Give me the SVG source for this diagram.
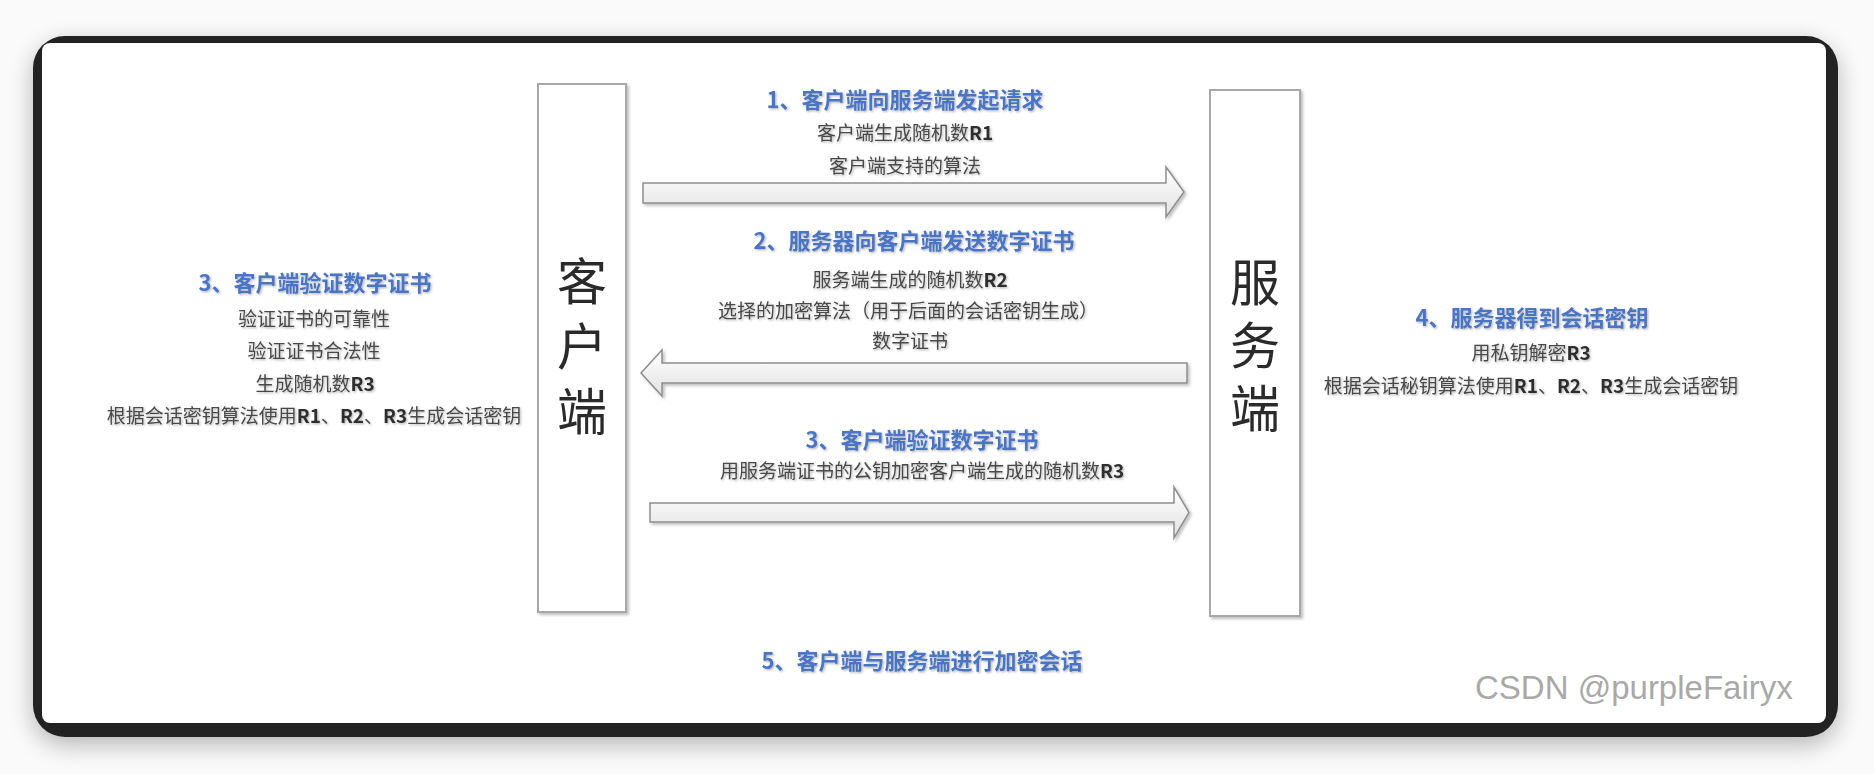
<svg xmlns="http://www.w3.org/2000/svg" width="1874" height="774" viewBox="0 0 1874 774">
  <defs>
    <filter id="frameShadow" x="-5%" y="-10%" width="110%" height="125%">
      <feGaussianBlur in="SourceAlpha" stdDeviation="12"/>
      <feOffset dx="0" dy="8" result="b"/>
      <feComponentTransfer><feFuncA type="linear" slope="0.28"/></feComponentTransfer>
      <feMerge><feMergeNode/><feMergeNode in="SourceGraphic"/></feMerge>
    </filter>
    <filter id="soft" x="-5%" y="-5%" width="115%" height="115%">
      <feDropShadow dx="2" dy="2" stdDeviation="1.5" flood-color="#000" flood-opacity="0.25"/>
    </filter>
    <filter id="txt" x="-5%" y="-20%" width="110%" height="150%">
      <feDropShadow dx="1.2" dy="1.2" stdDeviation="0.9" flood-color="#000" flood-opacity="0.3"/>
    </filter>
    <linearGradient id="arrowFill" x1="0" y1="0" x2="0" y2="1">
      <stop offset="0" stop-color="#ffffff"/>
      <stop offset="1" stop-color="#e2e2e2"/>
    </linearGradient>
  </defs>
  <style>
    .box { fill: #ffffff; stroke: #a8a8a8; stroke-width: 2; }
    .big { font-family: "Noto Sans CJK SC", "Noto Sans", sans-serif; font-size: 50px; fill: #2a2a2a; writing-mode: vertical-rl; text-orientation: upright; }
    .arrow { fill: url(#arrowFill); stroke: #8e8e8e; stroke-width: 1.5; stroke-linejoin: miter; }
    .h { font-family: "Noto Sans CJK SC", "Noto Sans", sans-serif; font-size: 22px; font-weight: bold; fill: #4a74c4; text-anchor: middle; }
    .t { font-family: "Noto Sans CJK SC", "Noto Sans", sans-serif; font-size: 19px; fill: #484848; text-anchor: middle; }
    .r { font-weight: bold; fill: #2e2e2e; }
    .wm { font-family: "Liberation Sans", Arial, sans-serif; font-size: 33px; fill: #a9a9a9; }
  </style>

  <!-- background and screenshot frame -->
  <rect x="0" y="0" width="1874" height="774" fill="#fafafa"/>
  <g id="frame" filter="url(#frameShadow)">
    <rect x="33" y="36" width="1805" height="701" rx="32" ry="32" fill="#242424"/>
  </g>
  <rect x="42" y="43" width="1784" height="680" rx="8" ry="8" fill="#ffffff"/>

  <!-- nodes -->
  <g id="node-client" filter="url(#soft)">
    <rect class="box" x="538" y="84" width="88" height="528"/>
    <text class="big" x="582" y="256" letter-spacing="15">客户端</text>
  </g>
  <g id="node-server" filter="url(#soft)">
    <rect class="box" x="1210" y="90" width="90" height="526"/>
    <text class="big" x="1255" y="257" letter-spacing="13">服务端</text>
  </g>

  <!-- connectors -->
  <g id="connectors" filter="url(#soft)">
    <path id="arrow-1" class="arrow" d="M643,183 H1166 V167 L1184,192 L1166,217 V203 H643 Z"/>
    <path id="arrow-2" class="arrow" d="M641,373 L662,350 V363 H1187 V383 H662 V396 Z"/>
    <path id="arrow-3" class="arrow" d="M650,503 H1174 V487 L1189,512.5 L1174,538 V522 H650 Z"/>
  </g>

  <!-- step 1 label -->
  <g id="label-step1" filter="url(#txt)">
    <text class="h" x="905" y="108">1、客户端向服务端发起请求</text>
    <text class="t" x="905" y="140">客户端生成随机数<tspan class="r">R1</tspan></text>
    <text class="t" x="905" y="173">客户端支持的算法</text>
  </g>

  <!-- step 2 label -->
  <g id="label-step2" filter="url(#txt)">
    <text class="h" x="914" y="249">2、服务器向客户端发送数字证书</text>
    <text class="t" x="910" y="287">服务端生成的随机数<tspan class="r">R2</tspan></text>
    <text class="t" x="908" y="318">选择的加密算法（用于后面的会话密钥生成）</text>
    <text class="t" x="910" y="348">数字证书</text>
  </g>

  <!-- step 3 label (middle) -->
  <g id="label-step3" filter="url(#txt)">
    <text class="h" x="922" y="448">3、客户端验证数字证书</text>
    <text class="t" x="922" y="478">用服务端证书的公钥加密客户端生成的随机数<tspan class="r">R3</tspan></text>
  </g>

  <!-- step 3 detail (left) -->
  <g id="note-client" filter="url(#txt)">
    <text class="h" x="315" y="291">3、客户端验证数字证书</text>
    <text class="t" x="314" y="326">验证证书的可靠性</text>
    <text class="t" x="314" y="358">验证证书合法性</text>
    <text class="t" x="315" y="391">生成随机数<tspan class="r">R3</tspan></text>
    <text class="t" x="314" y="423">根据会话密钥算法使用<tspan class="r">R1</tspan>、<tspan class="r">R2</tspan>、<tspan class="r">R3</tspan>生成会话密钥</text>
  </g>

  <!-- step 4 detail (right) -->
  <g id="note-server" filter="url(#txt)">
    <text class="h" x="1532" y="326">4、服务器得到会话密钥</text>
    <text class="t" x="1531" y="360">用私钥解密<tspan class="r">R3</tspan></text>
    <text class="t" x="1531" y="393">根据会话秘钥算法使用<tspan class="r">R1</tspan>、<tspan class="r">R2</tspan>、<tspan class="r">R3</tspan>生成会话密钥</text>
  </g>

  <!-- step 5 -->
  <g id="label-step5" filter="url(#txt)">
    <text class="h" x="922" y="669">5、客户端与服务端进行加密会话</text>
  </g>

  <!-- watermark -->
  <text class="wm" x="1475" y="699">CSDN @purpleFairyx</text>
</svg>
